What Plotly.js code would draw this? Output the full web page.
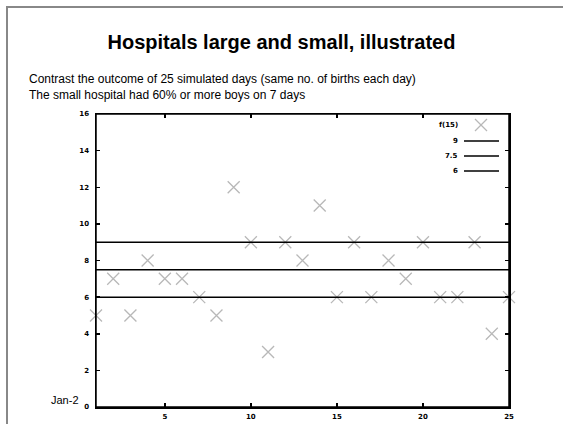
<!DOCTYPE html>
<html>
<head>
<meta charset="utf-8">
<script src="https://cdn.plot.ly/plotly-3.0.1.min.js"></script>
<style>
  html, body { margin: 0; padding: 0; background: #fff; }
  #wrap { position: relative; width: 563px; height: 424px; overflow: hidden; }
  #frame { position: absolute; left: 6px; top: 6px; width: 600px; height: 500px;
           border-left: 2px solid #888; border-top: 2px solid #888; }
  #chart { position: absolute; left: 0; top: 0; width: 563px; height: 424px; }
</style>
</head>
<body>
<div id="wrap"><div id="frame"></div><div id="chart"></div></div>
<script>
// Data
const days = [1,2,3,4,5,6,7,8,9,10,11,12,13,14,15,16,17,18,19,20,21,22,23,24,25];
const boys = [5,7,5,8,7,7,6,5,12,9,3,9,8,11,6,9,6,8,7,9,6,6,9,4,6];
const seriesName = 'f(15)';
const thresholds = [9, 7.5, 6];
const thresholdLabels = ['9', '7.5', '6'];
const xTicks = [5,10,15,20,25];
const yTicks = [0,2,4,6,8,10,12,14,16];

// Layout geometry (pixels)
const W = 563, H = 424;
const L = 96, R = 509, T = 114, B = 407;
const px = x => (x - L) / (R - L);
const py = y => (B - y) / (B - T);

const traces = [];
traces.push({
  x: days, y: boys, type: 'scatter', mode: 'markers', name: seriesName,
  cliponaxis: false, showlegend: false,
  marker: { symbol: 'x-thin-open', size: 12, color: '#b8b8b8', line: { width: 1.3, color: '#b8b8b8' } }
});
thresholds.forEach((t, i) => {
  traces.push({
    x: [days[0], days[days.length - 1]], y: [t, t], type: 'scatter', mode: 'lines',
    name: thresholdLabels[i], showlegend: false,
    line: { color: '#000', width: 1.5 }
  });
});

const tickFont = { family: 'DejaVu Sans, sans-serif', size: 7, color: '#000', weight: 'bold' };
const annotations = [
  { text: 'Contrast the outcome of 25 simulated days (same no. of births each day)', xref: 'paper', yref: 'paper',
    x: px(27), y: py(79), xanchor: 'left', yanchor: 'middle', showarrow: false,
    font: { family: 'Liberation Sans, Arial, sans-serif', size: 12, color: '#000' } },
  { text: 'The small hospital had 60% or more boys on 7 days', xref: 'paper', yref: 'paper',
    x: px(27), y: py(95), xanchor: 'left', yanchor: 'middle', showarrow: false,
    font: { family: 'Liberation Sans, Arial, sans-serif', size: 12, color: '#000' } },
  { text: 'Jan-2', xref: 'paper', yref: 'paper', x: px(81), y: py(400), xanchor: 'right', yanchor: 'middle',
    showarrow: false, font: { family: 'Liberation Sans, Arial, sans-serif', size: 11, color: '#000' } }
];
// custom legend (gnuplot style: label left of sample)
const legendRows = [seriesName].concat(thresholdLabels);
const legendY = [125, 141, 156, 171];
legendRows.forEach((lab, i) => {
  annotations.push({ text: lab, xref: 'paper', yref: 'paper', x: px(460), y: py(legendY[i]),
    xanchor: 'right', yanchor: 'middle', showarrow: false, font: tickFont });
});
const shapes = [];
// plot frame
shapes.push({ type: 'rect', xref: 'paper', yref: 'paper', x0: 0, x1: 1, y0: 0, y1: 1,
  line: { color: '#000', width: 1.5 }, layer: 'above' });
thresholdLabels.forEach((lab, i) => {
  shapes.push({ type: 'line', xref: 'paper', yref: 'paper', x0: px(464), x1: px(499),
    y0: py(legendY[i + 1]), y1: py(legendY[i + 1]), line: { color: '#000', width: 1.5 } });
});
// marker sample
const mx = 481, my = 125, ms = 6;
shapes.push({ type: 'line', xref: 'paper', yref: 'paper', x0: px(mx - ms), x1: px(mx + ms),
  y0: py(my - ms), y1: py(my + ms), line: { color: '#b8b8b8', width: 1.3 } });
shapes.push({ type: 'line', xref: 'paper', yref: 'paper', x0: px(mx - ms), x1: px(mx + ms),
  y0: py(my + ms), y1: py(my - ms), line: { color: '#b8b8b8', width: 1.3 } });

const layout = {
  width: W, height: H,
  margin: { l: L, r: W - R, t: T, b: H - B, pad: 0 },
  paper_bgcolor: 'rgba(0,0,0,0)', plot_bgcolor: 'rgba(0,0,0,0)',
  showlegend: false,
  title: { text: '<b>Hospitals large and small, illustrated</b>', xref: 'container', yref: 'container',
    x: 0.5, xanchor: 'center', y: 1 - 42 / H, yanchor: 'middle',
    font: { family: 'Liberation Sans, Arial, sans-serif', size: 20, color: '#000' } },
  xaxis: { range: [1, 25], tickvals: xTicks, ticks: 'inside', ticklen: 4, tickwidth: 1.5, tickcolor: '#000',
    showline: true, linecolor: '#000', linewidth: 1.5, mirror: 'ticks', showgrid: false, zeroline: false,
    tickfont: tickFont, ticklabelstandoff: 2, fixedrange: true },
  yaxis: { range: [0, 16], tickvals: yTicks, ticks: 'inside', ticklen: 4, tickwidth: 1.5, tickcolor: '#000',
    showline: true, linecolor: '#000', linewidth: 1.5, mirror: 'ticks', showgrid: false, zeroline: false,
    tickfont: tickFont, ticklabelstandoff: 4, fixedrange: true },
  annotations: annotations,
  shapes: shapes
};
Plotly.newPlot('chart', traces, layout, { staticPlot: true, displayModeBar: false });
</script>
</body>
</html>
